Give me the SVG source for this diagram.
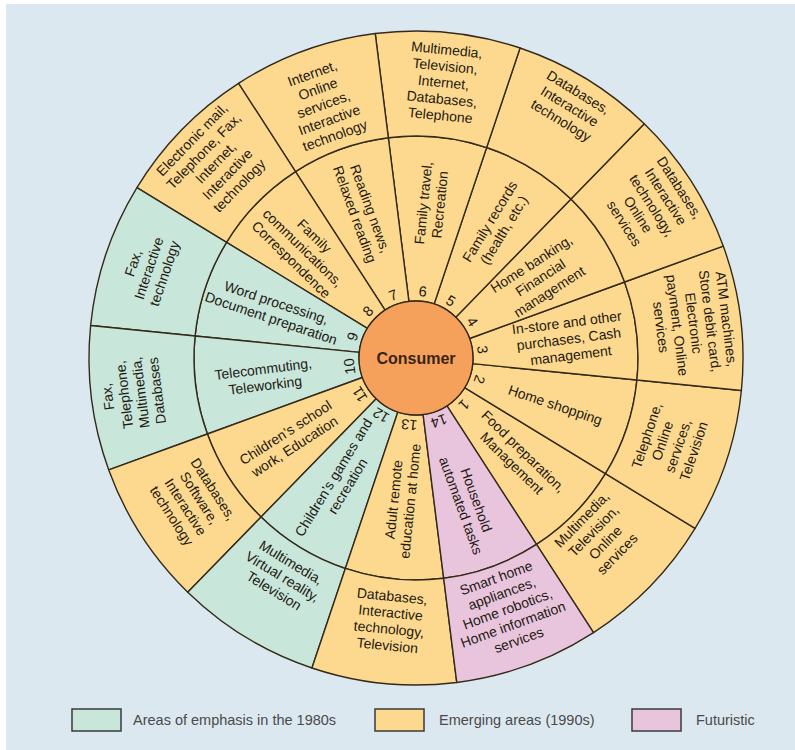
<svg xmlns="http://www.w3.org/2000/svg" xmlns:xlink="http://www.w3.org/1999/xlink" width="795" height="750" viewBox="0 0 795 750">
  <style>
    .lbl { font-family: "Liberation Sans", Arial, sans-serif; font-size: 14px; fill: #1f1a12; text-anchor: middle; }
    .num { font-family: "Liberation Sans", Arial, sans-serif; font-size: 14.5px; fill: #1f1a12; text-anchor: middle; }
    .leg { font-family: "Liberation Sans", Arial, sans-serif; font-size: 14.5px; fill: #4a4a4a; }
    .yel { fill: #fcd98f; }
    .teal { fill: #c8e6da; }
    .pink { fill: #e8c5dd; }
    .box { stroke: #3a3a3a; stroke-width: 1.5; }
  </style>
  <defs>
    <!-- annular wedges centred on angle 0, 1/14 of the wheel -->
    <path id="mid" d="M 55.571 -12.684 L 216.434 -49.399 A 222 222 0 0 1 216.434 49.399 L 55.571 12.684 A 57 57 0 0 0 55.571 -12.684 Z" stroke="#342a1a" stroke-width="1.4" stroke-linejoin="round"/>
    <path id="out" d="M 216.434 -49.399 L 318.802 -72.764 A 327 327 0 0 1 318.802 72.764 L 216.434 49.399 A 222 222 0 0 0 216.434 -49.399 Z" stroke="#342a1a" stroke-width="1.4" stroke-linejoin="round"/>
  </defs>

  <rect x="0" y="0" width="795" height="750" fill="#ffffff"/>
  <rect x="6" y="4" width="789" height="746" fill="#dce8f0"/>

  <g id="sector-1">
    <use href="#mid" class="yel" transform="translate(416 358) rotate(44.27)"/>
    <use href="#out" class="yel" transform="translate(416 358) rotate(44.27)"/>
    <text class="lbl" transform="translate(416 358) rotate(44.27) translate(142 0)"><tspan x="0" y="-3.25">Food preparation,</tspan><tspan x="0" y="13.25">Management</tspan></text>
    <text class="lbl" transform="translate(416 358) rotate(44.27) translate(256 0) rotate(-90)"><tspan x="0" y="-19.75">Multimedia,</tspan><tspan x="0" y="-3.25">Television,</tspan><tspan x="0" y="13.25">Online</tspan><tspan x="0" y="29.75">services</tspan></text>
    <text class="num" transform="translate(416 358) rotate(44.27) translate(67 0) rotate(90)" y="5">1</text>
  </g>

  <g id="sector-2">
    <use href="#mid" class="yel" transform="translate(416 358) rotate(18.56)"/>
    <use href="#out" class="yel" transform="translate(416 358) rotate(18.56)"/>
    <text class="lbl" transform="translate(416 358) rotate(18.56) translate(147 0)"><tspan x="0" y="5">Home shopping</tspan></text>
    <text class="lbl" transform="translate(416 358) rotate(18.56) translate(268 0) rotate(-90)"><tspan x="0" y="-19.75">Telephone,</tspan><tspan x="0" y="-3.25">Online</tspan><tspan x="0" y="13.25">services,</tspan><tspan x="0" y="29.75">Television</tspan></text>
    <text class="num" transform="translate(416 358) rotate(18.56) translate(67 0) rotate(90)" y="5">2</text>
  </g>

  <g id="sector-3">
    <use href="#mid" class="yel" transform="translate(416 358) rotate(-7.16)"/>
    <use href="#out" class="yel" transform="translate(416 358) rotate(-7.16)"/>
    <text class="lbl" transform="translate(416 358) rotate(-7.16) translate(154 0)"><tspan x="0" y="-11.5">In-store and other</tspan><tspan x="0" y="5">purchases, Cash</tspan><tspan x="0" y="21.5">management</tspan></text>
    <text class="lbl" transform="translate(416 358) rotate(-7.16) translate(280 0) rotate(90)"><tspan x="0" y="-28">ATM machines,</tspan><tspan x="0" y="-11.5">Store debit card,</tspan><tspan x="0" y="5">Electronic</tspan><tspan x="0" y="21.5">payment, Online</tspan><tspan x="0" y="38">services</tspan></text>
    <text class="num" transform="translate(416 358) rotate(-7.16) translate(67 0) rotate(90)" y="5">3</text>
  </g>

  <g id="sector-4">
    <use href="#mid" class="yel" transform="translate(416 358) rotate(-32.87)"/>
    <use href="#out" class="yel" transform="translate(416 358) rotate(-32.87)"/>
    <text class="lbl" transform="translate(416 358) rotate(-32.87) translate(148 0)"><tspan x="0" y="-11.5">Home banking,</tspan><tspan x="0" y="5">Financial</tspan><tspan x="0" y="21.5">management</tspan></text>
    <text class="lbl" transform="translate(416 358) rotate(-32.87) translate(281 0) rotate(90)"><tspan x="0" y="-28">Databases,</tspan><tspan x="0" y="-11.5">Interactive</tspan><tspan x="0" y="5">technology,</tspan><tspan x="0" y="21.5">Online</tspan><tspan x="0" y="38">services</tspan></text>
    <text class="num" transform="translate(416 358) rotate(-32.87) translate(67 0) rotate(90)" y="5">4</text>
  </g>

  <g id="sector-5">
    <use href="#mid" class="yel" transform="translate(416 358) rotate(-58.59)"/>
    <use href="#out" class="yel" transform="translate(416 358) rotate(-58.59)"/>
    <text class="lbl" transform="translate(416 358) rotate(-58.59) translate(155 0)"><tspan x="0" y="-3.25">Family records</tspan><tspan x="0" y="13.25">(health, etc.)</tspan></text>
    <text class="lbl" transform="translate(416 358) rotate(-58.59) translate(295 0) rotate(90)"><tspan x="0" y="-11.5">Databases,</tspan><tspan x="0" y="5">Interactive</tspan><tspan x="0" y="21.5">technology</tspan></text>
    <text class="num" transform="translate(416 358) rotate(-58.59) translate(67 0) rotate(90)" y="5">5</text>
  </g>

  <g id="sector-6">
    <use href="#mid" class="yel" transform="translate(416 358) rotate(-84.30)"/>
    <use href="#out" class="yel" transform="translate(416 358) rotate(-84.30)"/>
    <text class="lbl" transform="translate(416 358) rotate(-84.30) translate(155 0)"><tspan x="0" y="-3.25">Family travel,</tspan><tspan x="0" y="13.25">Recreation</tspan></text>
    <text class="lbl" transform="translate(416 358) rotate(-84.30) translate(277 0) rotate(90)"><tspan x="0" y="-28">Multimedia,</tspan><tspan x="0" y="-11.5">Television,</tspan><tspan x="0" y="5">Internet,</tspan><tspan x="0" y="21.5">Databases,</tspan><tspan x="0" y="38">Telephone</tspan></text>
    <text class="num" transform="translate(416 358) rotate(-84.30) translate(67 0) rotate(90)" y="5">6</text>
  </g>

  <g id="sector-7">
    <use href="#mid" class="yel" transform="translate(416 358) rotate(249.98)"/>
    <use href="#out" class="yel" transform="translate(416 358) rotate(249.98)"/>
    <text class="lbl" transform="translate(416 358) rotate(249.98) translate(156 0) rotate(180)"><tspan x="0" y="-3.25">Reading news,</tspan><tspan x="0" y="13.25">Relaxed reading</tspan></text>
    <text class="lbl" transform="translate(416 358) rotate(249.98) translate(270 0) rotate(90)"><tspan x="0" y="-28">Internet,</tspan><tspan x="0" y="-11.5">Online</tspan><tspan x="0" y="5">services,</tspan><tspan x="0" y="21.5">Interactive</tspan><tspan x="0" y="38">technology</tspan></text>
    <text class="num" transform="translate(416 358) rotate(249.98) translate(67 0) rotate(90)" y="5">7</text>
  </g>

  <g id="sector-8">
    <use href="#mid" class="yel" transform="translate(416 358) rotate(224.27)"/>
    <use href="#out" class="yel" transform="translate(416 358) rotate(224.27)"/>
    <text class="lbl" transform="translate(416 358) rotate(224.27) translate(158 0) rotate(180)"><tspan x="0" y="-11.5">Family</tspan><tspan x="0" y="5">communications,</tspan><tspan x="0" y="21.5">Correspondence</tspan></text>
    <text class="lbl" transform="translate(416 358) rotate(224.27) translate(280 0) rotate(90)"><tspan x="0" y="-28">Electronic mail,</tspan><tspan x="0" y="-11.5">Telephone, Fax,</tspan><tspan x="0" y="5">Internet,</tspan><tspan x="0" y="21.5">Interactive</tspan><tspan x="0" y="38">technology</tspan></text>
    <text class="num" transform="translate(416 358) rotate(224.27) translate(67 0) rotate(90)" y="5">8</text>
  </g>

  <g id="sector-9">
    <use href="#mid" class="teal" transform="translate(416 358) rotate(198.56)"/>
    <use href="#out" class="teal" transform="translate(416 358) rotate(198.56)"/>
    <text class="lbl" transform="translate(416 358) rotate(198.56) translate(150 0) rotate(180)"><tspan x="0" y="-3.25">Word processing,</tspan><tspan x="0" y="13.25">Document preparation</tspan></text>
    <text class="lbl" transform="translate(416 358) rotate(198.56) translate(282 0) rotate(90)"><tspan x="0" y="-11.5">Fax,</tspan><tspan x="0" y="5">Interactive</tspan><tspan x="0" y="21.5">technology</tspan></text>
    <text class="num" transform="translate(416 358) rotate(198.56) translate(67 0) rotate(90)" y="5">9</text>
  </g>

  <g id="sector-10">
    <use href="#mid" class="teal" transform="translate(416 358) rotate(172.84)"/>
    <use href="#out" class="teal" transform="translate(416 358) rotate(172.84)"/>
    <text class="lbl" transform="translate(416 358) rotate(172.84) translate(153 0) rotate(180)"><tspan x="0" y="-3.25">Telecommuting,</tspan><tspan x="0" y="13.25">Teleworking</tspan></text>
    <text class="lbl" transform="translate(416 358) rotate(172.84) translate(286 0) rotate(90)"><tspan x="0" y="-19.75">Fax,</tspan><tspan x="0" y="-3.25">Telephone,</tspan><tspan x="0" y="13.25">Multimedia,</tspan><tspan x="0" y="29.75">Databases</tspan></text>
    <text class="num" transform="translate(416 358) rotate(172.84) translate(67 0) rotate(90)" y="5">10</text>
  </g>

  <g id="sector-11">
    <use href="#mid" class="yel" transform="translate(416 358) rotate(147.13)"/>
    <use href="#out" class="yel" transform="translate(416 358) rotate(147.13)"/>
    <text class="lbl" transform="translate(416 358) rotate(147.13) translate(150 0) rotate(180)"><tspan x="0" y="-3.25">Children’s school</tspan><tspan x="0" y="13.25">work, Education</tspan></text>
    <text class="lbl" transform="translate(416 358) rotate(147.13) translate(266 0) rotate(-90)"><tspan x="0" y="-19.75">Databases,</tspan><tspan x="0" y="-3.25">Software,</tspan><tspan x="0" y="13.25">Interactive</tspan><tspan x="0" y="29.75">technology</tspan></text>
    <text class="num" transform="translate(416 358) rotate(147.13) translate(67 0) rotate(90)" y="5">11</text>
  </g>

  <g id="sector-12">
    <use href="#mid" class="teal" transform="translate(416 358) rotate(121.41)"/>
    <use href="#out" class="teal" transform="translate(416 358) rotate(121.41)"/>
    <text class="lbl" transform="translate(416 358) rotate(121.41) translate(145 0) rotate(180)"><tspan x="0" y="-3.25">Children’s games and</tspan><tspan x="0" y="13.25">recreation</tspan></text>
    <text class="lbl" transform="translate(416 358) rotate(121.41) translate(256 0) rotate(-90)"><tspan x="0" y="-11.5">Multimedia,</tspan><tspan x="0" y="5">Virtual reality,</tspan><tspan x="0" y="21.5">Television</tspan></text>
    <text class="num" transform="translate(416 358) rotate(121.41) translate(67 0) rotate(90)" y="5">12</text>
  </g>

  <g id="sector-13">
    <use href="#mid" class="yel" transform="translate(416 358) rotate(95.70)"/>
    <use href="#out" class="yel" transform="translate(416 358) rotate(95.70)"/>
    <text class="lbl" transform="translate(416 358) rotate(95.70) translate(143 0) rotate(180)"><tspan x="0" y="-3.25">Adult remote</tspan><tspan x="0" y="13.25">education at home</tspan></text>
    <text class="lbl" transform="translate(416 358) rotate(95.70) translate(264 0) rotate(-90)"><tspan x="0" y="-19.75">Databases,</tspan><tspan x="0" y="-3.25">Interactive</tspan><tspan x="0" y="13.25">technology,</tspan><tspan x="0" y="29.75">Television</tspan></text>
    <text class="num" transform="translate(416 358) rotate(95.70) translate(67 0) rotate(90)" y="5">13</text>
  </g>

  <g id="sector-14">
    <use href="#mid" class="pink" transform="translate(416 358) rotate(69.98)"/>
    <use href="#out" class="pink" transform="translate(416 358) rotate(69.98)"/>
    <text class="lbl" transform="translate(416 358) rotate(69.98) translate(154 0)"><tspan x="0" y="-3.25">Household</tspan><tspan x="0" y="13.25">automated tasks</tspan></text>
    <text class="lbl" transform="translate(416 358) rotate(69.98) translate(267 0) rotate(-90)"><tspan x="0" y="-28">Smart home</tspan><tspan x="0" y="-11.5">appliances,</tspan><tspan x="0" y="5">Home robotics,</tspan><tspan x="0" y="21.5">Home information</tspan><tspan x="0" y="38">services</tspan></text>
    <text class="num" transform="translate(416 358) rotate(69.98) translate(67 0) rotate(90)" y="5">14</text>
  </g>

  <g id="consumer">
    <circle cx="416" cy="358" r="57" fill="#f5a15c" stroke="#342a1a" stroke-width="1.4"/>
    <text x="416" y="364" text-anchor="middle" font-family="Liberation Sans, Arial, sans-serif" font-size="16" font-weight="bold" fill="#3a2418">Consumer</text>
  </g>

  <g id="legend">
    <rect class="box teal" x="72" y="709" width="49" height="22"/>
    <text class="leg" x="133" y="725">Areas of emphasis in the 1980s</text>
    <rect class="box yel" x="375" y="709" width="49" height="22"/>
    <text class="leg" x="439" y="725">Emerging areas (1990s)</text>
    <rect class="box pink" x="632" y="709" width="49" height="22"/>
    <text class="leg" x="696" y="725">Futuristic</text>
  </g>
</svg>
